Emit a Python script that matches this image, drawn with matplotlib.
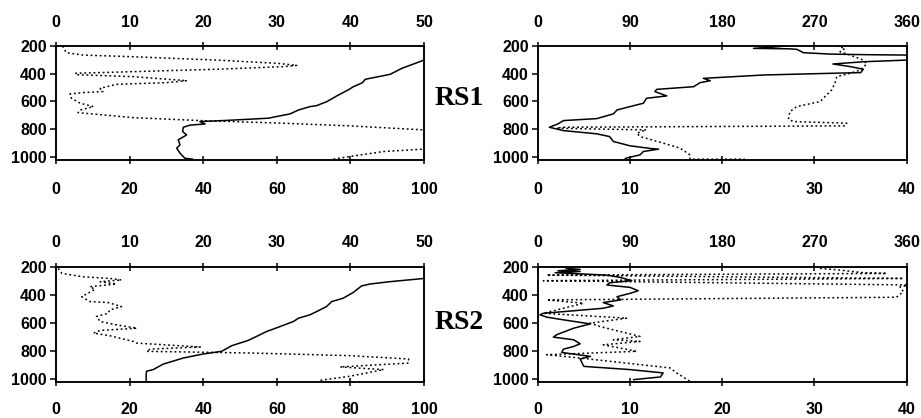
import matplotlib.pyplot as plt

# --------------------------------------------
# dados (pressao em hPa)

# RS1 - painel esquerdo
rs1_a_val = [100, 94, 90.8, 87.6, 84, 83.3, 80.8, 79.4, 76.3, 73.6, 70.8, 69, 65.9, 63.6,
             60.9, 57.7, 52.7, 45.5, 39.1, 40.5, 36.4, 34.6, 34.4, 35.5, 33.2, 33.7, 32.8,
             33.7, 35, 37.1]
rs1_a_p = [303, 362, 405, 422, 441, 465, 494, 517, 560, 601, 630, 637, 661, 689,
           703, 720, 727, 737, 744, 761, 770, 785, 816, 840, 875, 911, 935,
           971, 1007, 1014]
rs1_b_val = [0.9, 1.4, 3.7, 10.5, 21.8, 30, 32.7, 30.9, 21.8, 10.5, 2.6, 2.8, 10.5, 17.8,
             15.0, 8.2, 6.0, 6.4, 3.7, 1.9, 2.1, 3.3, 5.1, 3.3, 3.0, 10.5, 19.6, 30.9,
             39.9, 50, 56, 50, 44.5, 39.9, 37.7]
rs1_b_p = [202, 250, 267, 279, 303, 326, 341, 350, 369, 386, 398, 408, 422, 451,
           465, 477, 506, 529, 536, 546, 577, 613, 637, 661, 680, 716, 737, 756,
           775, 804, 870, 942, 959, 995, 1014]

# RS1 - painel direito
rs1_c_val = [27.0, 23.4, 27.2, 28.1, 28.8, 31.7, 35.3, 40, 44, 40, 35.3, 32, 33.9, 35.3,
             35, 31.7, 24.5, 17.96, 18.7, 17.6, 16.9, 12.9, 12.7, 14, 11.8, 11.45, 10.7,
             8.6, 8.2, 6.4, 2.8, 2.2, 1.26, 2.8, 6.4, 7.8, 8.2, 10.0, 12.2, 13.1, 11.45,
             11.1, 10, 9.5]
rs1_c_p = [202, 219, 222, 226, 250, 260, 264, 267, 285, 303, 315, 331, 350, 369,
           393, 398, 410, 434, 451, 465, 494, 513, 529, 560, 577, 613, 625,
           661, 689, 723, 737, 761, 785, 809, 832, 852, 887, 918, 937, 942, 959,
           983, 1000, 1009]
rs1_d_val = [291.7, 299.8, 295, 304.7, 317.7, 321, 314.5, 304.7, 291.7, 290, 286.8, 275.4,
             252.7, 246, 244.6, 249.4, 301.5, 299.8, 25, 18.5, 106, 96.6, 100, 122.6,
             138.9, 148.6, 148.6, 202]
rs1_d_p = [202, 219, 243, 267, 303, 331, 374, 398, 422, 470, 517, 601,
           637, 673, 727, 744, 756, 775, 785, 792, 804, 828, 852, 899,
           935, 983, 1014, 1014]

# RS2 - painel esquerdo
rs2_a_val = [100, 90.8, 85.3, 83, 80.8, 78, 74.9, 73.5, 71.7, 69, 65.9, 64.5, 60.9, 57.2,
             54.5, 52.2, 47.7, 45, 40, 34.6, 29.2, 26.4, 24.6, 24.5, 24.5]
rs2_a_p = [279, 302, 319, 333, 379, 421, 445, 481, 505, 540, 564, 588, 624, 660,
           695, 724, 762, 802, 821, 850, 893, 933, 945, 969, 1010]
rs2_b_val = [0.3, 0.8, 3.7, 7.3, 8.9, 6, 8.2, 4.6, 5.3, 3.5, 4.6, 7.1, 8.9, 7.3, 7.1, 5.5,
             6.0, 8.2, 11, 6.0, 5.1, 7.3, 10.5, 11, 19.6, 12.8, 12.3, 26.4, 39.9, 47.9,
             47.9, 38.6, 44.5, 42.2, 39.9, 35.9]
rs2_b_p = [207, 243, 267, 279, 290, 302, 319, 338, 357, 410, 445, 452, 481, 505, 529, 552,
           588, 612, 636, 652, 671, 690, 731, 743, 771, 786, 802, 814, 833, 857,
           886, 914, 933, 957, 981, 1010]

# RS2 - painel direito
rs2_c_val = [3.1, 4.6, 2.2, 4.6, 1.9, 7.5, 8.9, 10.2, 7.8, 7.5, 10, 10.9, 10, 8.6, 9, 7.1,
             8.2, 7.1, 2.8, 0.6, 0.25, 1, 2.8, 5.7, 3.9, 2.05, 1.7, 3.9, 4.6, 3.9, 2.8,
             2.6, 5.7, 4.6, 5, 10, 13.6, 13.3, 10.4]
rs2_c_p = [207, 214, 224, 229, 238, 255, 271, 295, 310, 326, 343, 367, 386, 410, 433, 452,
           476, 493, 517, 529, 540, 557, 576, 605, 636, 683, 700, 719, 748, 767, 786,
           810, 838, 857, 910, 933, 957, 986, 1005]
rs2_d_val = [275.4, 295, 317.7, 340.5, 8.8, 356.7, 5.5, 365, 353.5, 356.7, 350, 8.8, 44.6,
             5.5, 86.8, 51, 60.8, 99.8, 73.8, 99.8, 64, 96.6, 8.8, 41.3, 129, 135.6, 148.6]
rs2_d_p = [207, 219, 238, 243, 255, 279, 295, 326, 338, 374, 414, 433, 457,
           529, 564, 600, 624, 695, 719, 731, 755, 802, 826, 850, 921, 957, 1017]

yticks = [200, 400, 600, 800, 1000]

# --------------------------------------------
# configura graficos

plt.rcParams['font.family'] = ['Liberation Sans', 'DejaVu Sans']
plt.rcParams['font.weight'] = 'bold'

fig = plt.figure(figsize=(9.21, 4.18), dpi=100)

def painel(rect, sol_x, sol_p, dot_x, dot_p, bot_lim, bot_ticks, top_lim, top_ticks,
           pad_bot, pad_top):
    ax = fig.add_axes(rect)
    ax2 = ax.twiny()
    ax.plot(sol_x, sol_p, color='k', lw=1.1)
    ax2.plot(dot_x, dot_p, color='k', lw=1.1, linestyle=(0, (1.2, 1.8)))
    ax.set_xlim(bot_lim)
    ax.set_xticks(bot_ticks)
    ax2.set_xlim(top_lim)
    ax2.set_xticks(top_ticks)
    ax.set_ylim(1020, 200)
    ax.set_yticks(yticks)
    ax.tick_params(axis='x', direction='inout', length=6, width=1.1,
                   labelsize=11.5, pad=pad_bot)
    ax2.tick_params(axis='x', direction='inout', length=6, width=1.1,
                    labelsize=11.5, pad=pad_top)
    ax.tick_params(axis='y', direction='out', length=4.5, width=1.1,
                   labelsize=11.5, pad=2)
    for a in (ax, ax2):
        for s in a.spines.values():
            s.set_linewidth(1.1)
    return ax

painel([0.0608, 0.6172, 0.3996, 0.2734], rs1_a_val, rs1_a_p, rs1_b_val, rs1_b_p,
       (0, 100), range(0, 101, 20), (0, 50), range(0, 51, 10), 13, 8)
painel([0.5838, 0.6172, 0.4007, 0.2734], rs1_c_val, rs1_c_p, rs1_d_val, rs1_d_p,
       (0, 40), range(0, 41, 10), (0, 360), range(0, 361, 90), 13, 8)
painel([0.0608, 0.0868, 0.3996, 0.2734], rs2_a_val, rs2_a_p, rs2_b_val, rs2_b_p,
       (0, 100), range(0, 101, 20), (0, 50), range(0, 51, 10), 11.5, 9.5)
painel([0.5838, 0.0868, 0.4007, 0.2734], rs2_c_val, rs2_c_p, rs2_d_val, rs2_d_p,
       (0, 40), range(0, 41, 10), (0, 360), range(0, 361, 90), 11.5, 9.5)

fig.text(0.499, 0.765, 'RS1', family='Liberation Serif', weight='bold', fontsize=20,
         ha='center', va='center')
fig.text(0.499, 0.228, 'RS2', family='Liberation Serif', weight='bold', fontsize=20,
         ha='center', va='center')

fig.savefig('out.png', dpi=100)
